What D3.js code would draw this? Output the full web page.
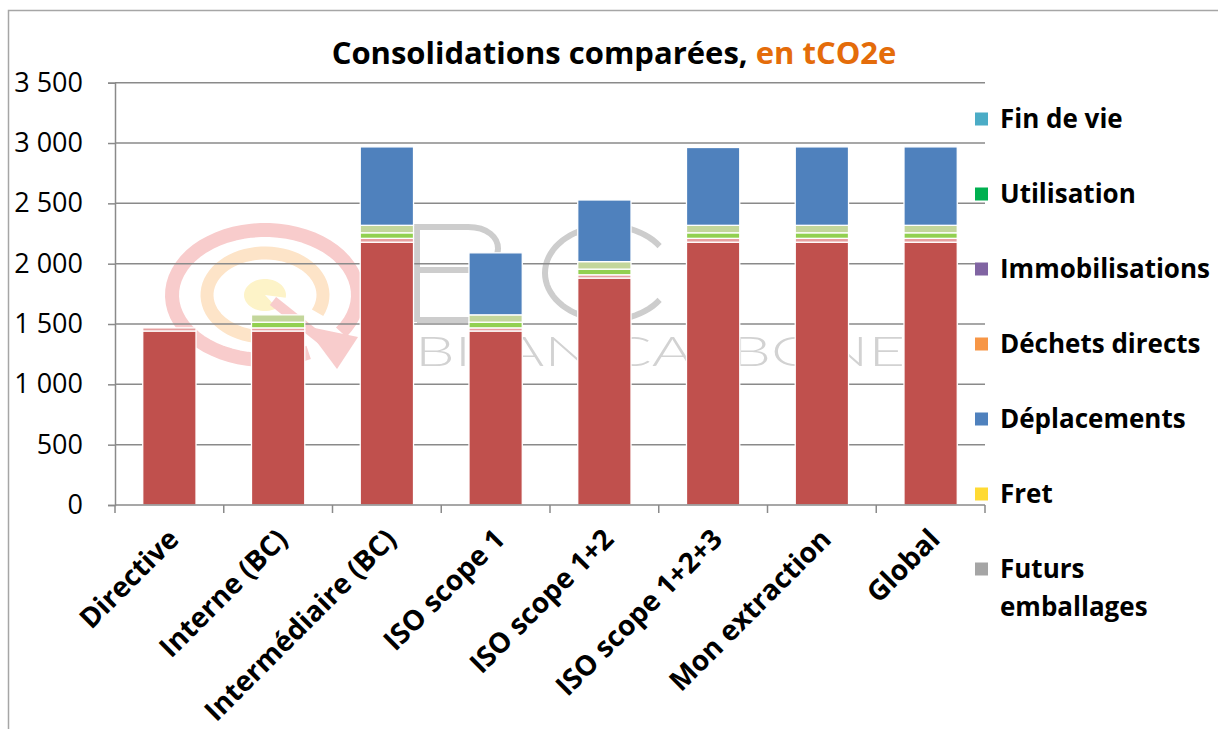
<!DOCTYPE html>
<html>
<head>
<meta charset="utf-8">
<script src="https://cdn.jsdelivr.net/npm/d3@7"></script>
<style>
  body { margin: 0; background: #fff; }
  svg { display: block; }
</style>
</head>
<body>
<div id="chart"></div>
<script>
// Catégories (axe X)
const categories = ["Directive", "Interne (BC)", "Intermédiaire (BC)", "ISO scope 1",
  "ISO scope 1+2", "ISO scope 1+2+3", "Mon extraction", "Global"];

// Séries, de bas en haut de la pile (tCO2e)
const energie           = [1442, 1442, 2178, 1442, 1881, 2178, 2178, 2178];
const horsEnergie       = [26, 26, 32, 26, 27, 32, 32, 32];
const intrants          = [0, 47, 46, 47, 47, 46, 46, 46];
const materiaux         = [0, 61, 62, 61, 62, 62, 62, 62];
const futursEmballages  = [0, 0, 0, 0, 0, 0, 0, 0];
const fret              = [0, 0, 0, 0, 0, 0, 0, 0];
const deplacements      = [0, 0, 650, 514, 511, 645, 650, 650];
const dechetsDirects    = [0, 0, 0, 0, 0, 0, 0, 0];
const immobilisations   = [0, 0, 0, 0, 0, 0, 0, 0];
const utilisation       = [0, 0, 0, 0, 0, 0, 0, 0];
const finDeVie          = [0, 0, 0, 0, 0, 0, 0, 0];

const seriesNames = ["Energie", "Hors énergie", "Intrants", "Matériaux et services",
  "Futurs emballages", "Fret", "Déplacements", "Déchets directs", "Immobilisations",
  "Utilisation", "Fin de vie"];
const seriesValues = [energie, horsEnergie, intrants, materiaux, futursEmballages, fret,
  deplacements, dechetsDirects, immobilisations, utilisation, finDeVie];
const seriesColors = ["#C0504D", "#E6A0A0", "#92D050", "#C3D69B", "#A5A5A5", "#FFDA33",
  "#4F81BD", "#F79646", "#8064A2", "#00B050", "#4BACC6"];

// La légende d'origine est tronquée : seules ces entrées sont visibles
const legendNames = ["Fin de vie", "Utilisation", "Immobilisations", "Déchets directs",
  "Déplacements", "Fret", "Futurs emballages"];

const yTicks = [0, 500, 1000, 1500, 2000, 2500, 3000, 3500];

const width = 1218, height = 729;
const plot = { left: 115, right: 985, top: 82.7, bottom: 505 };

const svg = d3.select("#chart").append("svg")
  .attr("width", width)
  .attr("height", height)
  .style("font-family", "'Open Sans', sans-serif");

// cadre du graphique
svg.append("rect")
  .attr("x", 8.5).attr("y", 10.5)
  .attr("width", 1300).attr("height", 800)
  .attr("fill", "#fff")
  .attr("stroke", "#a6a6a6")
  .attr("stroke-width", 1.5);

// filigrane "Bilan Carbone"
const wm = svg.append("g").attr("class", "watermark");
const cx = 265, cy = 295;
function ellArc(rx, ry, a0, a1) {
  const p = d3.path();
  const n = 60;
  for (let i = 0; i <= n; i++) {
    const a = (a0 + (a1 - a0) * i / n) * Math.PI / 180;
    const x = cx + rx * Math.cos(a), y = cy + ry * Math.sin(a);
    if (i === 0) p.moveTo(x, y); else p.lineTo(x, y);
  }
  return p.toString();
}
wm.append("path").attr("d", ellArc(93, 65, 62, 395)).attr("fill", "none")
  .attr("stroke", "#f8cccc").attr("stroke-width", 14);
wm.append("path").attr("d", ellArc(58, 42, 75, 385)).attr("fill", "none")
  .attr("stroke", "#fde4c8").attr("stroke-width", 13);
wm.append("path")
  .attr("d", (() => {
    const p = d3.path();
    p.moveTo(cx, cy);
    for (let i = 0; i <= 40; i++) {
      const a = (55 + (360 - 45) * i / 40) * Math.PI / 180;
      p.lineTo(cx + 21 * Math.cos(a), cy + 16 * Math.sin(a));
    }
    p.closePath();
    return p.toString();
  })())
  .attr("fill", "#fdf3c8");
wm.append("line")
  .attr("x1", cx + 8).attr("y1", cy + 6).attr("x2", 322).attr("y2", 340)
  .attr("stroke", "#f8cccc").attr("stroke-width", 10);
wm.append("path")
  .attr("d", "M305,326 L358,337 L337,369 Z")
  .attr("fill", "#f8cccc");
// lettres BC
wm.append("path")
  .attr("d", "M417,322 V227 H468 C508,227 508,270 468,270 H420 M420,270 H472 C515,270 515,320 472,320 H417")
  .attr("fill", "none").attr("stroke", "#cdcdcd").attr("stroke-width", 6);
wm.append("path")
  .attr("d", (() => {
    const p = d3.path();
    for (let i = 0; i <= 60; i++) {
      const a = (35 + 290 * i / 60) * Math.PI / 180;
      const x = 608 + 63 * Math.cos(a), y = 273 + 47 * Math.sin(a);
      if (i === 0) p.moveTo(x, y); else p.lineTo(x, y);
    }
    return p.toString();
  })())
  .attr("fill", "none").attr("stroke", "#cdcdcd").attr("stroke-width", 6);
wm.append("text")
  .attr("x", 415).attr("y", 366)
  .attr("textLength", 490).attr("lengthAdjust", "spacingAndGlyphs")
  .style("font-family", "Lato, sans-serif")
  .style("font-weight", 300)
  .style("font-size", "41px")
  .attr("fill", "#d2d2d2")
  .text("BILAN CARBONE");

// échelles
const x = d3.scaleBand()
  .domain(categories)
  .range([plot.left, plot.right])
  .paddingInner(0.51)
  .paddingOuter(0.255);

const y = d3.scaleLinear()
  .domain([0, 3500])
  .range([plot.bottom, plot.top]);

const fr = d3.formatLocale({ decimal: ",", thousands: "\u00a0", grouping: [3], currency: ["", " €"] });
const fmt = fr.format(",");

// lignes de quadrillage
svg.append("g")
  .selectAll("line")
  .data(yTicks.filter(d => d > 0))
  .join("line")
  .attr("x1", plot.left).attr("x2", plot.right)
  .attr("y1", d => y(d)).attr("y2", d => y(d))
  .attr("stroke", "#8a8a8a")
  .attr("stroke-width", 1.5);

// données empilées
const table = categories.map((c, i) => {
  const row = { cat: c };
  seriesNames.forEach((s, k) => row[s] = seriesValues[k][i]);
  return row;
});
const stacked = d3.stack().keys(seriesNames)(table);
const color = d3.scaleOrdinal().domain(seriesNames).range(seriesColors);

svg.append("g")
  .selectAll("g")
  .data(stacked)
  .join("g")
  .attr("fill", d => color(d.key))
  .selectAll("rect")
  .data(d => d.filter(p => p[1] - p[0] > 0))
  .join("rect")
  .attr("x", d => x(d.data.cat))
  .attr("y", d => y(d[1]))
  .attr("width", x.bandwidth())
  .attr("height", d => y(d[0]) - y(d[1]))
  .attr("stroke", "#fff")
  .attr("stroke-width", 1.3);

// axe Y
const yAxis = svg.append("g")
  .attr("transform", `translate(${plot.left},0)`)
  .call(d3.axisLeft(y).tickValues(yTicks).tickFormat(fmt).tickSize(7).tickPadding(25));
yAxis.select(".domain").attr("stroke", "#8a8a8a").attr("stroke-width", 1.5);
yAxis.selectAll(".tick line").attr("stroke", "#8a8a8a").attr("stroke-width", 1.5);
yAxis.selectAll(".tick text")
  .style("font-size", "27px")
  .style("font-family", "'Open Sans', sans-serif")
  .attr("fill", "#000");

// axe X
const bounds = d3.range(categories.length + 1).map(i => plot.left + i * x.step());
const xAxis = svg.append("g");
xAxis.append("line")
  .attr("x1", plot.left).attr("x2", plot.right)
  .attr("y1", plot.bottom).attr("y2", plot.bottom)
  .attr("stroke", "#8a8a8a").attr("stroke-width", 1.5);
xAxis.selectAll(".tk")
  .data(bounds)
  .join("line")
  .attr("class", "tk")
  .attr("x1", d => d).attr("x2", d => d)
  .attr("y1", plot.bottom).attr("y2", plot.bottom + 8)
  .attr("stroke", "#8a8a8a").attr("stroke-width", 1.5);
xAxis.selectAll(".lbl")
  .data(categories)
  .join("text")
  .attr("class", "lbl")
  .attr("transform", d => `translate(${x(d) + x.bandwidth() / 2 + 11},541) rotate(-45)`)
  .attr("text-anchor", "end")
  .style("font-size", "28px")
  .style("font-weight", "bold")
  .attr("fill", "#000")
  .text(d => d);

// titre
const title = svg.append("text")
  .attr("x", 614)
  .attr("y", 64)
  .attr("text-anchor", "middle")
  .style("font-size", "31px")
  .style("font-weight", "bold");
title.append("tspan").attr("fill", "#000").text("Consolidations comparées, ");
title.append("tspan").attr("fill", "#E46C0A").text("en tCO2e");

// légende
const legend = svg.append("g");
legendNames.forEach((name, i) => {
  const cyL = 119 + i * 75;
  const row = legend.append("g");
  row.append("rect")
    .attr("x", 975).attr("y", cyL - 6.5)
    .attr("width", 13).attr("height", 13)
    .attr("fill", color(name));
  const t = row.append("text")
    .attr("x", 1000)
    .attr("y", cyL + 9)
    .style("font-size", "26px")
    .style("font-weight", "bold")
    .attr("fill", "#000");
  if (name === "Futurs emballages") {
    t.append("tspan").attr("x", 1000).text("Futurs");
    t.append("tspan").attr("x", 1000).attr("dy", 38).text("emballages");
  } else {
    t.text(name);
  }
});
</script>
</body>
</html>
